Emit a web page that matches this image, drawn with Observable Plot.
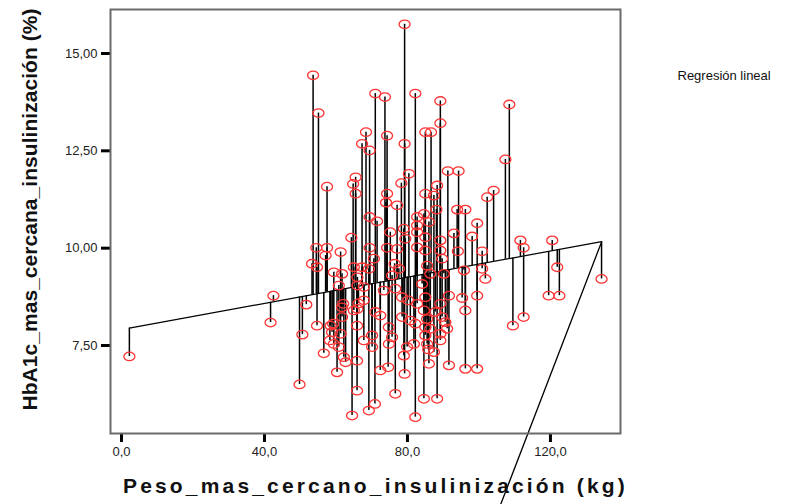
<!DOCTYPE html>
<html><head><meta charset="utf-8">
<script src="https://cdn.jsdelivr.net/npm/d3@7"></script>
<script src="https://cdn.jsdelivr.net/npm/@observablehq/plot@0.6"></script>
<style>body{margin:0;background:#fff;}</style>
</head><body><div id="chart"></div>
<script>
// Weight (kg) and HbA1c (%)
const peso = [2.2,41.7,42.5,49.8,50.6,51.7,53.6,55.1,57.5,54.5,57.5,53.3,54.7,57.1,61.3,64.3,65.5,64.8,65.5,67.3,
  59.4,61.7,60.8,65,65,54.7,56.6,58.5,58.9,58.3,61.7,61.3,60.8,62.2,60.3,62.7,65.9,65.9,64.5,65.9,
  66.3,62,59.2,61.7,59.4,79.2,71,73.7,82.2,68.4,69.4,74.3,79.2,85,80.4,78.3,74.3,74,77.1,69.4,
  71.5,85,84.6,82.7,82.7,79,75.2,79.4,77.1,69.4,74.3,82.7,82.7,85,70.6,67.3,69.2,76.4,77.6,75.7,
  66,66,67.8,67.8,73.4,76.6,78.5,80.2,82.7,85,66,71,72.4,78.5,80.8,82.2,74.8,70.1,85,67.8,
  75.7,74.8,70.1,79.9,79,81.8,72.4,74.6,79.2,76.6,70.9,69.2,82.2,84.6,89.2,89.2,86.6,91.3,94.3,88.3,
  87.4,88.1,93.9,96.2,102.3,86,99.5,93,85,89.2,89.2,89.7,94.1,98.1,100.9,95.8,100.9,85.5,86.4,84.1,
  90.2,91.6,95.3,99.5,96.2,84.6,89.2,87.8,85.5,89.7,86.4,91.1,85,89.2,85.5,87.4,89.2,86,91.6,96.2,
  99.5,88.3,85.8,90.6,108.5,107.4,104.1,101.8,111.6,112.5,120.5,121.9,119.5,122.5,109.5,112.5,134.3];
const hba1c = [7.22,8.09,8.78,6.5,7.78,8.55,14.44,13.47,11.58,10.01,10.01,9.6,9.51,9.81,9.9,10.27,11.82,11.65,11.4,12.68,
  9.38,9.34,9.04,9.51,8.4,8.01,7.3,8.01,7.84,7.63,8.23,7.8,7.46,7.2,6.81,7.07,8.01,7.11,5.7,6.34,
  8.58,8.57,8.06,8.48,7.54,15.75,13.97,13.88,13.97,12.98,12.51,12.89,12.68,12.98,11.91,11.67,11.4,11.17,11.1,10.8,
  10.69,11.4,10.88,10.8,10.58,10.5,10.41,10.24,9.98,10.01,10.01,10.41,10.02,9.94,9.73,9.51,9.47,9.6,9.47,9.3,
  9.25,9.04,9.0,8.66,8.91,8.96,8.74,8.66,8.57,8.74,8.44,8.36,8.27,8.23,8.14,8.06,7.97,7.76,7.97,7.63,
  7.71,7.54,7.46,7.46,7.24,7.54,6.86,6.94,6.77,6.26,6.0,5.83,5.66,6.13,13.78,13.21,12.98,11.98,11.98,11.61,
  11.35,10.99,10.99,10.99,11.31,10.67,10.64,10.38,10.28,10.2,9.94,9.73,9.92,10.3,9.92,9.43,9.47,9.55,9.34,9.08,
  9.34,8.78,8.72,8.78,8.4,8.4,8.57,8.36,8.18,8.23,7.93,7.93,7.76,7.8,7.54,7.33,7.63,7.03,6.99,6.9,
  6.9,6.13,7.4,8.1,13.69,12.28,11.48,9.21,10.2,10.01,10.2,9.51,8.78,8.78,8.01,8.23,9.21];
const xTicks = [0, 40, 80, 120];
const yTicks = [7.5, 10, 12.5, 15];
const fitIntercept = 7.91;
const fitSlope = 0.0168;
const strayX = [134.3, 106];
const strayY = [10.16, 3.4];
const xTitle = "Peso_mas_cercano_insulinización (kg)";
const yTitle = "HbA1c_mas_cercana_insulinización (%)";
const legendLabel = "Regresión lineal";

const points = peso.map((x, i) => ({x, y: hba1c[i], fit: fitIntercept + fitSlope * x}));
const fitLine = d3.extent(peso).map(x => ({x, y: fitIntercept + fitSlope * x}));
const stray = strayX.map((x, i) => ({x, y: strayY[i]}));

const ellipse = {draw(ctx, size) {
  const r = Math.sqrt(size / Math.PI), rx = r * 1.1, ry = r * 0.85, k = 0.5523;
  ctx.moveTo(rx, 0);
  ctx.bezierCurveTo(rx, ry * k, rx * k, ry, 0, ry);
  ctx.bezierCurveTo(-rx * k, ry, -rx, ry * k, -rx, 0);
  ctx.bezierCurveTo(-rx, -ry * k, -rx * k, -ry, 0, -ry);
  ctx.bezierCurveTo(rx * k, -ry, rx, -ry * k, rx, 0);
  ctx.closePath();
}};

const font = "'Liberation Sans', Arial, sans-serif";
const chart = Plot.plot({
  width: 808, height: 504,
  marginLeft: 110, marginRight: 188, marginTop: 9, marginBottom: 71,
  style: {fontFamily: font, fontSize: "13px", color: "#222", background: "#fff", overflow: "visible"},
  x: {domain: [-3.08, 139.6]},
  y: {domain: [5.24, 16.13]},
  marks: [
    Plot.axisX({ticks: xTicks, tickSize: 9, tickPadding: 4, stroke: "#000", strokeWidth: 3,
      tickFormat: d => d.toFixed(1).replace(".", ","), label: null, fontSize: 13}),
    Plot.axisY({ticks: yTicks, tickSize: 9, tickPadding: 4, stroke: "#000", strokeWidth: 3,
      tickFormat: d => d.toFixed(2).replace(".", ","), label: null, fontSize: 13}),
    Plot.ruleX(points, {x: "x", y1: "y", y2: "fit", stroke: "#000", strokeWidth: 1.5}),
    Plot.line(fitLine, {x: "x", y: "y", stroke: "#000", strokeWidth: 1.2}),
    Plot.line(stray, {x: "x", y: "y", stroke: "#000", strokeWidth: 1.3}),
    Plot.dot(points, {x: "x", y: "y", r: 5, symbol: ellipse, stroke: "#ff3535", fill: "none", strokeWidth: 1.3}),
    Plot.frame({stroke: "#6b6b6b", strokeWidth: 2}),
    Plot.text([xTitle], {text: d => d, frameAnchor: "bottom", textAnchor: "middle", dx: 10, dy: 59, fontSize: 21, fontWeight: "bold", fill: "#111"}),
    Plot.text([yTitle], {text: d => d, frameAnchor: "left", textAnchor: "middle", dx: -80, dy: -12, rotate: -90, fontSize: 21, fontWeight: "bold", fill: "#111"}),
    Plot.text([legendLabel], {text: d => d, frameAnchor: "top-right", textAnchor: "start", dx: 57, dy: 61, fontSize: 13, fill: "#111"})
  ]
});
document.getElementById("chart").appendChild(chart);
// spread the axis titles to the width they take in the reference
function spread(label, target) {
  d3.select(chart).selectAll("text").filter(function() { return this.textContent === label; })
    .each(function() {
      const natural = this.getComputedTextLength();
      const ls = (target - natural) / label.length;
      d3.select(this).style("letter-spacing", ls + "px");
    });
}
spread(xTitle, 505);
spread(yTitle, 402);
</script>
</body></html>
